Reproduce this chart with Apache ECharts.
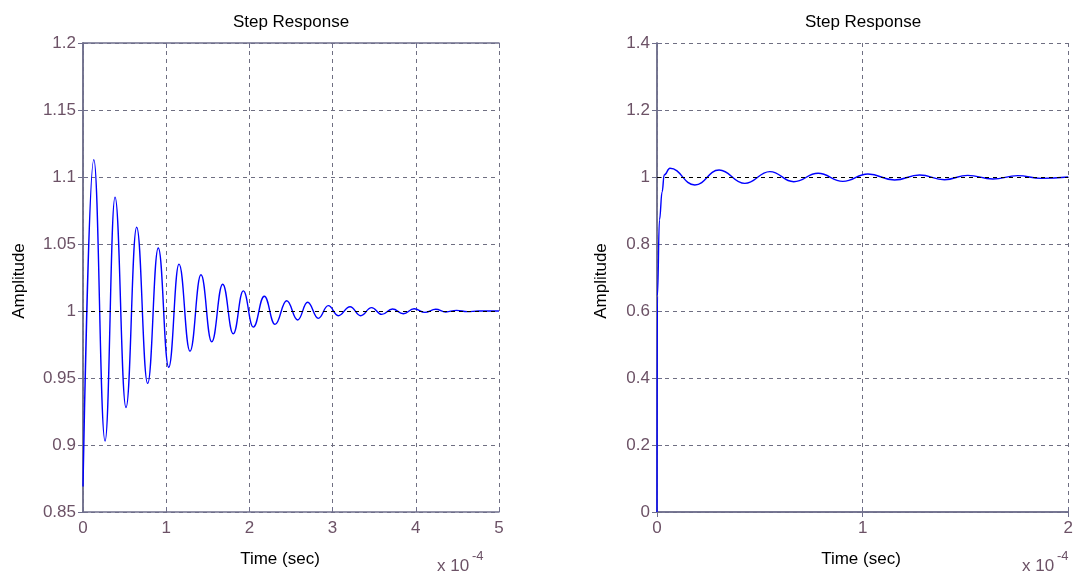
<!DOCTYPE html>
<html>
<head>
<meta charset="utf-8">
<script src="https://cdn.jsdelivr.net/npm/echarts@6/dist/echarts.min.js"></script>
<style>
  html, body { margin: 0; padding: 0; background: #ffffff; }
  #chart { width: 1076px; height: 574px; }
</style>
</head>
<body>
<div id="chart"></div>
<script>
// Time values are in units of 1e-4 s (see the "x 10^-4" axis multiplier).
// Left plot: lightly damped response (peaks and troughs of the ringing).
const leftTime = [0.00, 0.13, 0.265, 0.385, 0.517, 0.645, 0.777, 0.905, 1.03, 1.154,
  1.286, 1.418, 1.547, 1.679, 1.806, 1.927, 2.047, 2.179, 2.308, 2.448,
  2.58, 2.70, 2.828, 2.948, 3.068, 3.21, 3.337, 3.469, 3.59, 3.72,
  3.85, 3.98, 4.11, 4.24, 4.36, 4.49, 4.62, 4.75, 5.0];
const leftAmp = [0.869, 1.113, 0.903, 1.085, 0.928, 1.0625, 0.946, 1.047, 0.958, 1.035,
  0.970, 1.027, 0.977, 1.020, 0.983, 1.015, 0.988, 1.011, 0.990, 1.0077,
  0.9933, 1.0065, 0.9945, 1.004, 0.9965, 1.0032, 0.9965, 1.0025, 0.9975, 1.0015,
  0.998, 1.0017, 0.999, 1.0013, 0.9993, 1.0005, 0.9995, 1.0, 1.0];

// Right plot: well damped response.
const rightTime = [0, 0.002, 0.012, 0.025, 0.035, 0.063, 0.184, 0.302, 0.427, 0.549,
  0.665, 0.783, 0.904, 1.026, 1.155, 1.277, 1.398, 1.511, 1.633, 1.754, 1.868, 2.0];
const rightAmp = [0, 0.645, 0.872, 0.956, 1.006, 1.026, 0.976, 1.021, 0.981, 1.016,
  0.986, 1.011, 0.987, 1.009, 0.991, 1.006, 0.992, 1.005, 0.994, 1.004, 0.996, 1.0];

const leftXTicks = { min: 0, max: 5, interval: 1 };
const leftYTicks = { min: 0.85, max: 1.2, interval: 0.05 };
const rightXTicks = { min: 0, max: 2, interval: 1 };
const rightYTicks = { min: 0, max: 1.4, interval: 0.2 };

const steadyState = 1;
const titleText = 'Step Response';
const xName = 'Time (sec)';
const yName = 'Amplitude';

const FONT = '"Liberation Sans", Arial, sans-serif';
const AXIS_COLOR = '#6f6f8c';
const LABEL_COLOR = '#6c5266';
const GRID_COLOR = '#6f6f82';

const pair = (xs, ys) => xs.map((x, i) => [x, ys[i]]);
const fmt = v => String(parseFloat(v.toFixed(2)));

function mainX(grid, t) {
  return {
    type: 'value', gridIndex: grid, position: 'bottom',
    min: t.min, max: t.max, interval: t.interval,
    axisLine: { show: true, lineStyle: { color: AXIS_COLOR, width: 1.5 } },
    axisTick: { show: true, inside: true, length: 5, lineStyle: { color: AXIS_COLOR } },
    axisLabel: { color: LABEL_COLOR, fontFamily: FONT, fontSize: 17, margin: 8, formatter: fmt },
    splitLine: { show: true, lineStyle: { color: GRID_COLOR, type: [4, 4], width: 1 } }
  };
}
function boxX(grid, t) {
  return {
    type: 'value', gridIndex: grid, position: 'top',
    min: t.min, max: t.max, interval: t.interval,
    axisLine: { show: true, lineStyle: { color: AXIS_COLOR, width: 1.5 } },
    axisTick: { show: true, inside: true, length: 5, lineStyle: { color: AXIS_COLOR } },
    axisLabel: { show: false }, splitLine: { show: false }
  };
}
function mainY(grid, t) {
  return {
    type: 'value', gridIndex: grid, position: 'left',
    min: t.min, max: t.max, interval: t.interval,
    axisLine: { show: true, lineStyle: { color: AXIS_COLOR, width: 1.5 } },
    axisTick: { show: true, inside: true, length: 5, lineStyle: { color: AXIS_COLOR } },
    axisLabel: { color: LABEL_COLOR, fontFamily: FONT, fontSize: 17, margin: 7, formatter: fmt },
    splitLine: { show: true, lineStyle: { color: GRID_COLOR, type: [4, 4], width: 1 } }
  };
}
function boxY(grid, t) {
  return {
    type: 'value', gridIndex: grid, position: 'right',
    min: t.min, max: t.max, interval: t.interval,
    axisLine: { show: true, lineStyle: { color: AXIS_COLOR, width: 1.5 } },
    axisTick: { show: true, inside: true, length: 5, lineStyle: { color: AXIS_COLOR } },
    axisLabel: { show: false }, splitLine: { show: false }
  };
}
function response(xi, yi, data) {
  return {
    type: 'line', xAxisIndex: xi, yAxisIndex: yi, data: data,
    showSymbol: false, smooth: 0.45, smoothMonotone: 'x',
    lineStyle: { color: '#0000ff', width: 1.4 }, itemStyle: { color: '#0000ff' },
    silent: true, animation: false,
    markLine: {
      silent: true, symbol: 'none', animation: false,
      label: { show: false },
      lineStyle: { color: '#000000', type: [4, 4], width: 1 },
      data: [{ yAxis: steadyState }]
    }
  };
}
function text(x, y, str, rotation) {
  return {
    type: 'text', x: x, y: y, rotation: rotation || 0,
    style: { text: str, fill: '#000000', font: '17px ' + FONT, align: 'center', verticalAlign: 'middle' }
  };
}
function multiplier(x, y) {
  return {
    type: 'group', x: x, y: y, children: [
      { type: 'text', x: 0, y: 0, style: { text: 'x 10', fill: LABEL_COLOR, font: '17px ' + FONT, align: 'left', verticalAlign: 'middle' } },
      { type: 'text', x: 35, y: -10, style: { text: '-4', fill: LABEL_COLOR, font: '13px ' + FONT, align: 'left', verticalAlign: 'middle' } }
    ]
  };
}

const chart = echarts.init(document.getElementById('chart'), null, { renderer: 'canvas' });
chart.setOption({
  backgroundColor: '#ffffff',
  animation: false,
  grid: [
    { left: 83, top: 43, width: 416, height: 469 },
    { left: 657, top: 43, width: 412, height: 469 }
  ],
  xAxis: [mainX(0, leftXTicks), boxX(0, leftXTicks), mainX(1, rightXTicks), boxX(1, rightXTicks)],
  yAxis: [mainY(0, leftYTicks), boxY(0, leftYTicks), mainY(1, rightYTicks), boxY(1, rightYTicks)],
  series: [
    response(0, 0, pair(leftTime, leftAmp)),
    response(2, 2, pair(rightTime, rightAmp))
  ],
  graphic: [
    text(291, 22, titleText),
    text(863, 22, titleText),
    text(280, 559, xName),
    text(861, 559, xName),
    text(19, 281, yName, Math.PI / 2),
    text(601, 281, yName, Math.PI / 2),
    multiplier(437, 566),
    multiplier(1022, 566)
  ]
});
</script>
</body>
</html>
